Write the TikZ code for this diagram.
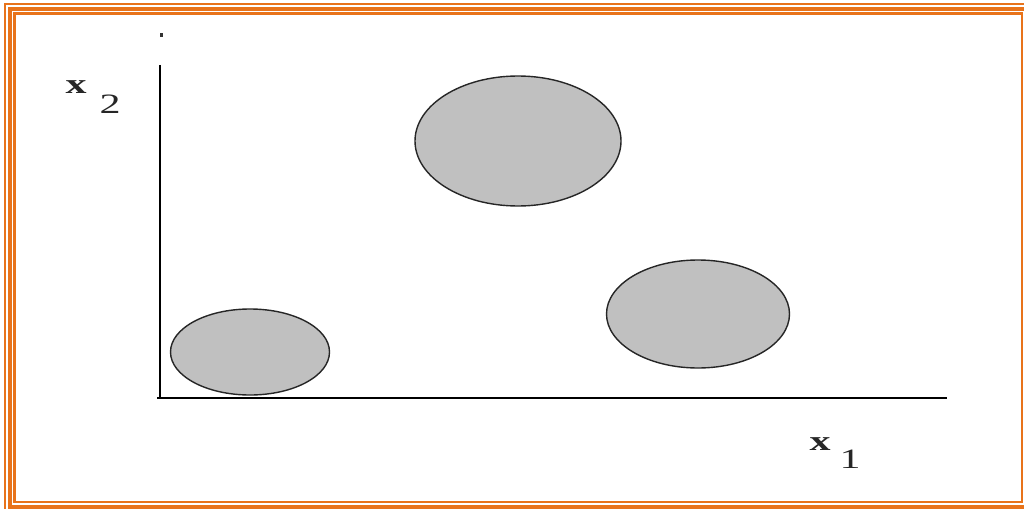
\documentclass[tikz,border=0pt]{standalone}
\usepackage{fontspec}
\usetikzlibrary{shapes.geometric}
\setmainfont{Liberation Serif}
\definecolor{brd}{HTML}{E8731A}
\definecolor{blobfill}{HTML}{C0C0C0}
\tikzset{
  frame/.style={draw=brd},
  axis/.style={draw=black, line width=2.4pt},
  blob/.style={draw=black!85, fill=blobfill, line width=1.4pt},
  lbl/.style={font=\fontsize{28}{28}\selectfont\bfseries, inner sep=0pt, text=black!85, xscale=1.5},
  sub/.style={font=\fontsize{28}{28}\selectfont, inner sep=0pt, text=black!85, xscale=1.5}
}
\begin{document}
\begin{tikzpicture}[x=1pt,y=-1pt]
\useasboundingbox (0,0) rectangle (1024,508);
\fill[white] (0,0) rectangle (1024,508);
% frame
\draw[frame, line width=2pt] (5,4) rectangle (1030,515);
\draw[frame, line width=4pt] (10,9) rectangle (1027,506.5);
\draw[frame, line width=2.5pt] (14.5,13.5) rectangle (1022,502);
% axes
\coordinate (o) at (160,398);
\coordinate (ytop) at (160,65);
\coordinate (xend) at (947,398);
\coordinate (xstart) at (157,398);
\draw[axis] (ytop) -- (o);
\draw[axis] (xstart) -- (xend);
\fill[black!80] (159.5,33.5) rectangle (163,37);
% blobs
\node[blob, ellipse, minimum width=206pt, minimum height=130pt, inner sep=0pt] (c1) at (518,141) {};
\node[blob, ellipse, minimum width=183pt, minimum height=108pt, inner sep=0pt] (c2) at (698,314) {};
\node[blob, ellipse, minimum width=159pt, minimum height=86pt, inner sep=0pt] (c3) at (250,352) {};
% labels
\node[lbl] (x2) at (76,87) {x};
\node[sub] (x2s) at (110,104) {2};
\node[lbl] (x1) at (820,444) {x};
\node[sub] (x1s) at (850,459) {1};
\end{tikzpicture}
\end{document}
